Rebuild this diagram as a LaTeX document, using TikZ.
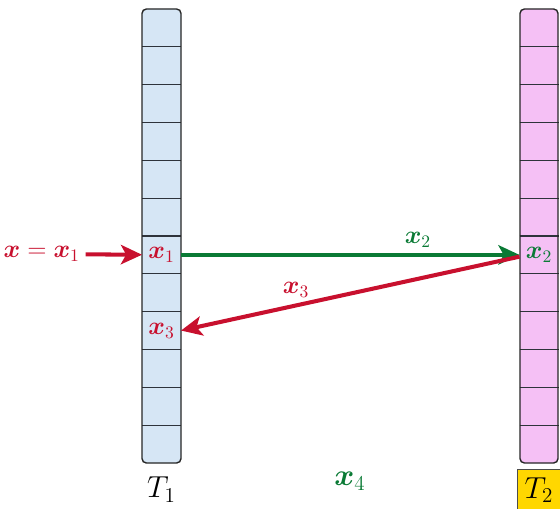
\documentclass[tikz,border=0pt]{standalone}
\usepackage{amsmath}
\usepackage{bm}
\usetikzlibrary{positioning, arrows.meta}
\definecolor{arrred}{HTML}{C8102E}
\definecolor{arrgreen}{HTML}{0A7A35}
\definecolor{cellblue}{HTML}{D6E6F5}
\definecolor{cellpink}{HTML}{F5C0F5}
\definecolor{labyellow}{HTML}{FFD700}
\definecolor{linegray}{HTML}{2E333B}

\begin{document}
\begin{tikzpicture}[x=0.02cm,y=0.02cm,
  cell/.style={minimum width=0.78cm,minimum height=0.7566cm,inner sep=0pt,
               outer sep=0pt,font=\Large},
  sep/.style={draw=linegray,line width=0.7pt},
  frame/.style={draw=black!85,line width=0.8pt,rounded corners=2.5pt},
  move/.style={-{Stealth[length=12pt,width=11pt,inset=3pt]},line width=2.3pt},
  tag/.style={font=\Large}]
  \useasboundingbox (0,0) rectangle (560,508);
  % the two tables
  \fill[cellblue,rounded corners=2.5pt] (142,45) rectangle (181,499);
  \fill[cellpink,rounded corners=2.5pt] (520,45) rectangle (558,499);
  \foreach \i in {0,...,11} {
    \node[cell] (L\i) at (161.5,{499-37.83*(\i+0.5)}) {};
    \node[cell] (R\i) at (539,{499-37.83*(\i+0.5)}) {};
  }
  \foreach \i in {0,...,10} {
    \draw[sep] (L\i.south west) -- (L\i.south east);
    \draw[sep] (R\i.south west) -- (R\i.south east);
  }
  \draw[frame] (142,45) rectangle (181,499);
  \draw[frame] (520,45) rectangle (558,499);
  % cell entries
  \node[tag,text=arrred] (cx1) at (L6) {$\bm{x}_1$};
  \node[tag,text=arrred] (cx3) at (L8) {$\bm{x}_3$};
  \node[tag,text=arrgreen] (cx2) at (R6) {$\bm{x}_2$};
  % names
  \node[font=\LARGE,below=0.16cm of L11] (t1) {$T_1$};
  \node[font=\LARGE,draw=black!70,fill=labyellow,minimum width=0.88cm,
        minimum height=0.84cm,below=0.12cm of R11] (t2) {$T_2$};
  \node[font=\LARGE,text=arrgreen] (x4) at (350,27) {$\bm{x}_4$};
  % moves
  \node[tag,text=arrred,anchor=east,inner sep=1pt] (inp) at (82,254) {$\bm{x} = \bm{x}_1$};
  \draw[move,arrred,shorten <=2pt] (inp) -- (L6);
  \draw[move,arrgreen] (L6.east) -- node[tag,pos=0.7,above]{$\bm{x}_2$} (R6.west);
  \draw[move,arrred] ([yshift=-1pt]R6.west) -- node[tag,pos=0.66,above,text=arrred]{$\bm{x}_3$} (L8.east);
\end{tikzpicture}
\end{document}
